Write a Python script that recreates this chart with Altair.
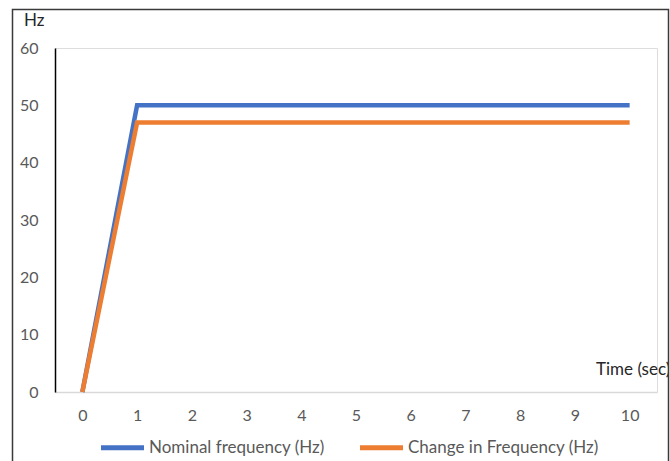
import altair as alt
import pandas as pd

times = [0, 1, 2, 3, 4, 5, 6, 7, 8, 9, 10]
nominal = [0, 50, 50, 50, 50, 50, 50, 50, 50, 50, 50]
change = [0, 47, 47, 47, 47, 47, 47, 47, 47, 47, 47]
series_names = ["Nominal frequency (Hz)", "Change in Frequency (Hz)"]
series_colors = ["#4472C4", "#ED7D31"]

rows = []
for t, v in zip(times, nominal):
    rows.append({"t": t, "v": v, "s": series_names[0]})
for t, v in zip(times, change):
    rows.append({"t": t, "v": v, "s": series_names[1]})
df = pd.DataFrame(rows)

FONT = "Lato"
W, H = 602, 344
PL, PT = 55, 48

lines = alt.Chart(df).mark_line(strokeWidth=4.5, strokeCap="butt", strokeJoin="miter").encode(
    x=alt.X("t:Q", scale=alt.Scale(domain=[-0.5, 10.5], nice=False, zero=False),
            axis=alt.Axis(values=times, title=None, grid=False, ticks=False,
                          domainColor="#D9D9D9", domainWidth=1.5,
                          labelColor="#595959", labelFont=FONT, labelFontSize=16,
                          labelPadding=15)),
    y=alt.Y("v:Q", scale=alt.Scale(domain=[0, 60], nice=False),
            axis=alt.Axis(values=[0, 10, 20, 30, 40, 50, 60], title=None, grid=False, ticks=False,
                          domainColor="#000000", domainWidth=1.5,
                          labelColor="#595959", labelFont=FONT, labelFontSize=16,
                          labelPadding=17)),
    color=alt.Color("s:N", scale=alt.Scale(domain=series_names, range=series_colors),
                    legend=alt.Legend(title=None, orient="none", legendX=43, legendY=375,
                                      direction="horizontal", symbolType="stroke",
                                      symbolSize=1850, symbolStrokeWidth=5,
                                      labelFont=FONT, labelFontSize=17, labelColor="#595959",
                                      labelLimit=0,
                                      labelOffset=2, columnPadding=24)),
    order=alt.Order("t:Q"),
)

hz = alt.Chart(pd.DataFrame({"txt": ["Hz"]})).mark_text(
    font=FONT, fontSize=17, color="#262626", align="left", baseline="middle"
).encode(text="txt:N", x=alt.value(24 - PL), y=alt.value(21 - PT))

tlabel = alt.Chart(pd.DataFrame({"txt": ["Time (sec)"]})).mark_text(
    font=FONT, fontSize=17, color="#262626", align="left", baseline="middle"
).encode(text="txt:N", x=alt.value(596 - PL), y=alt.value(370 - PT))

cover = alt.Chart(pd.DataFrame({"a": [0]})).mark_rect(
    fill="white", stroke=None
).encode(x=alt.value(668 - PL), x2=alt.value(690 - PL),
         y=alt.value(0 - PT), y2=alt.value(470 - PT))

border = alt.Chart(pd.DataFrame({"a": [0]})).mark_rect(
    fill=None, stroke="#3a3a3a", strokeWidth=1.5
).encode(x=alt.value(12.5 - PL), x2=alt.value(668.5 - PL),
         y=alt.value(9.5 - PT), y2=alt.value(475 - PT))

chart = alt.layer(lines, hz, tlabel, cover, border).properties(
    width=W, height=H,
    autosize=alt.AutoSizeParams(type="none"),
    padding={"left": PL, "top": PT, "right": 670 - PL - W, "bottom": 461 - PT - H},
).configure_view(stroke=None).configure(background="white")

chart.save("out.html", embed_options={"renderer": "svg", "actions": False})
